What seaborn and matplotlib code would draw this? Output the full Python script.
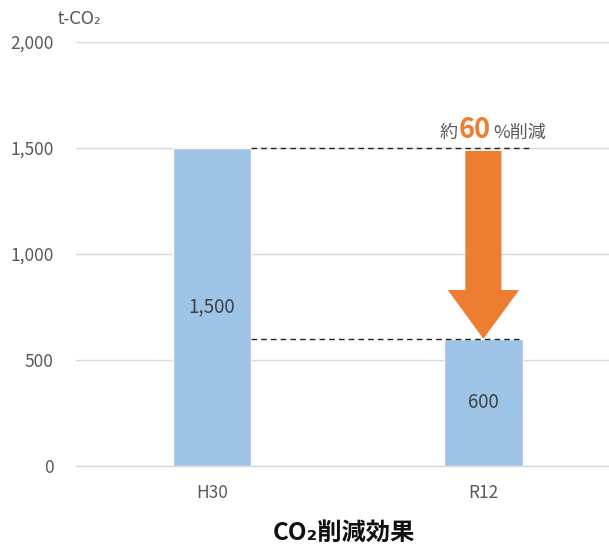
import matplotlib
matplotlib.use("Agg")
import matplotlib.pyplot as plt
from matplotlib.patches import FancyArrow
import seaborn as sns
import pandas as pd

categories = ["H30", "R12"]
values = [1500, 600]
value_labels = ["1,500", "600"]
yticks = [0, 500, 1000, 1500, 2000]
ytick_labels = ["0", "500", "1,000", "1,500", "2,000"]

sns.set_theme(style="white")
plt.rcParams['font.family'] = ['Noto Sans CJK JP', 'DejaVu Sans']

fig = plt.figure(figsize=(6.09, 5.48), dpi=100)
ax = fig.add_axes([76/609, 1-466/548, 1-76/609, (466-42)/548])

df = pd.DataFrame({"cat": categories, "val": values})
sns.barplot(data=df, x="cat", y="val", color="#9DC3E6", saturation=1, width=0.29, ax=ax)

ax.set_ylim(0, 2000)
ax.set_xlim(-0.502, 1.463)
ax.set_yticks(yticks)
ax.set_yticklabels(ytick_labels)
ax.yaxis.grid(True, color="#D9D9D9", linewidth=1)
ax.set_axisbelow(True)
for s in ["top", "right", "left"]:
    ax.spines[s].set_visible(False)
ax.spines["bottom"].set_color("#D9D9D9")
ax.spines["bottom"].set_linewidth(1)
ax.tick_params(axis="both", length=0, colors="#595959", labelsize=12.5)
ax.tick_params(axis="y", pad=16)
ax.tick_params(axis="x", pad=13)
ax.set_xlabel("")
ax.set_ylabel("")

ax.bar_label(ax.containers[0], labels=value_labels, label_type="center",
             color="#404040", fontsize=13.5)

# dashed reference lines
ax.plot([0.145, 1.17], [values[0], values[0]], linestyle=(0, (4, 3)), color="#222222", linewidth=1, zorder=3)
ax.plot([0.145, 1.145], [values[1], values[1]], linestyle=(0, (4, 3)), color="#222222", linewidth=1, zorder=3)

# arrow
arrow = FancyArrow(1.0, 1486, 0, values[1] - 1486, width=0.133, head_width=0.263,
                   head_length=230, length_includes_head=True, color="#ED7D31", zorder=4, linewidth=0)
ax.add_patch(arrow)

# annotation text
fig.text(458/609, 1-138/548, "約", ha="right", va="baseline", fontsize=13, color="#595959")
fig.text(475/609, 1-138/548, "60", ha="center", va="baseline", fontsize=19.5, color="#ED7D31", fontweight="bold")
fig.text(493/609, 1-138/548, "%削減", ha="left", va="baseline", fontsize=13, color="#595959")

# unit label
fig.text(58/609, 1-24/548, "t-CO₂", ha="left", va="baseline", fontsize=12, color="#595959",
         family=['DejaVu Sans'])

# title
fig.text(344/609, 1-540/548, "CO₂削減効果", ha="center", va="baseline", fontsize=17.5,
         fontweight="bold", color="#111111", family=['Noto Sans CJK JP', 'DejaVu Sans'])

fig.savefig("out.png", dpi=100)
